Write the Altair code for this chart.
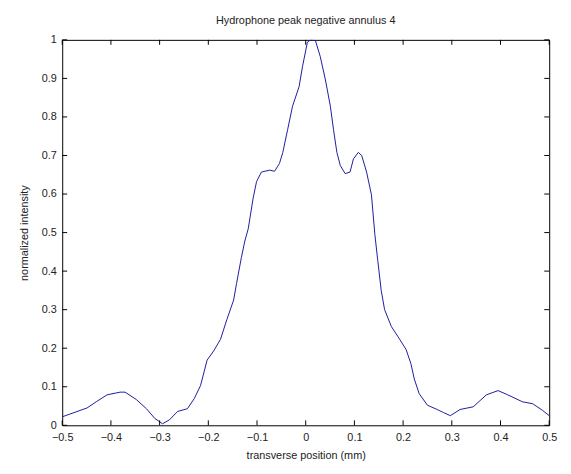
import altair as alt
import pandas as pd

# Transverse position (mm) and normalized intensity
x_pos = [-0.5, -0.449, -0.429, -0.408, -0.381, -0.371, -0.348, -0.327, -0.310, -0.294,
         -0.28, -0.263, -0.243, -0.229, -0.216, -0.2025, -0.189, -0.175, -0.162, -0.148,
         -0.142, -0.132, -0.125, -0.118, -0.108, -0.101, -0.091, -0.074, -0.064, -0.054,
         -0.047, -0.037, -0.027, -0.0135, -0.0067, 0.0035, 0.01, 0.020, 0.030, 0.0405,
         0.0506, 0.057, 0.064, 0.071, 0.081, 0.091, 0.098, 0.108, 0.115, 0.125,
         0.135, 0.142, 0.148, 0.155, 0.162, 0.176, 0.189, 0.206, 0.216, 0.223,
         0.233, 0.25, 0.27, 0.283, 0.297, 0.317, 0.344, 0.371, 0.395, 0.415,
         0.445, 0.466, 0.486, 0.5]
intensity = [0.022, 0.045, 0.062, 0.079, 0.086, 0.086, 0.067, 0.043, 0.018, 0.004,
             0.014, 0.036, 0.043, 0.069, 0.103, 0.169, 0.193, 0.223, 0.274, 0.325,
             0.368, 0.436, 0.478, 0.51, 0.589, 0.632, 0.657, 0.662, 0.659, 0.679,
             0.708, 0.768, 0.828, 0.879, 0.93, 0.994, 1.0, 0.998, 0.956, 0.896,
             0.828, 0.768, 0.708, 0.674, 0.653, 0.657, 0.691, 0.708, 0.70, 0.657,
             0.598, 0.495, 0.427, 0.350, 0.30, 0.256, 0.231, 0.197, 0.16, 0.12,
             0.082, 0.052, 0.041, 0.033, 0.025, 0.041, 0.048, 0.079, 0.09, 0.079,
             0.061, 0.056, 0.039, 0.025]

x_ticks = [-0.5, -0.4, -0.3, -0.2, -0.1, 0, 0.1, 0.2, 0.3, 0.4, 0.5]
y_ticks = [0, 0.1, 0.2, 0.3, 0.4, 0.5, 0.6, 0.7, 0.8, 0.9, 1]

title_text = "Hydrophone peak negative annulus 4"
x_title = "transverse position (mm)"
y_title = "normalized intensity"

W, H = 494, 391
FONT = "Liberation Sans"
TXT = "#222222"

df = pd.DataFrame({"x": x_pos, "y": intensity})
xt = pd.DataFrame({"x": x_ticks})
yt = pd.DataFrame({"y": y_ticks})

xscale = alt.Scale(domain=[-0.5, 0.5], nice=False, zero=False)
yscale = alt.Scale(domain=[0, 1], nice=False, zero=False)

x_axis = alt.Axis(values=x_ticks, format="~g", title=x_title, ticks=False,
                  domain=False, grid=False, labelPadding=6, titlePadding=8,
                  labelFont=FONT, titleFont=FONT, labelFontSize=11,
                  titleFontSize=11, titleFontWeight="normal",
                  labelColor=TXT, titleColor=TXT, labelFlush=False)
y_axis = alt.Axis(values=y_ticks, format="~g", title=y_title, ticks=False,
                  domain=False, grid=False, labelPadding=6, titlePadding=12,
                  labelFont=FONT, titleFont=FONT, labelFontSize=11,
                  titleFontSize=11, titleFontWeight="normal",
                  labelColor=TXT, titleColor=TXT, labelFlush=False)

X = alt.X("x:Q", scale=xscale, axis=x_axis, title=x_title)
Y = alt.Y("y:Q", scale=yscale, axis=y_axis, title=y_title)

line = alt.Chart(df).mark_line(color="#1c1c9c", strokeWidth=1, clip=True).encode(x=X, y=Y)

bottom_ticks = alt.Chart(xt).mark_rule(color="black", strokeWidth=1).encode(
    x=X, y=alt.value(H), y2=alt.value(H - 5))
top_ticks = alt.Chart(xt).mark_rule(color="black", strokeWidth=1).encode(
    x=X, y=alt.value(0), y2=alt.value(5))
left_ticks = alt.Chart(yt).mark_rule(color="black", strokeWidth=1).encode(
    y=Y, x=alt.value(0), x2=alt.value(5))
right_ticks = alt.Chart(yt).mark_rule(color="black", strokeWidth=1).encode(
    y=Y, x=alt.value(W), x2=alt.value(W - 5))

chart = alt.layer(line, bottom_ticks, top_ticks, left_ticks, right_ticks).properties(
    width=W, height=H,
    title=alt.TitleParams(title_text, font=FONT, fontSize=11, fontWeight="normal",
                          color=TXT, offset=8),
    autosize=alt.AutoSizeParams(type="none"),
    padding={"left": 55, "top": 29, "right": 14, "bottom": 40},
    background="white",
).configure_view(stroke="black", strokeWidth=1)

chart.save("out.html", embed_options={"renderer": "svg", "actions": False})
